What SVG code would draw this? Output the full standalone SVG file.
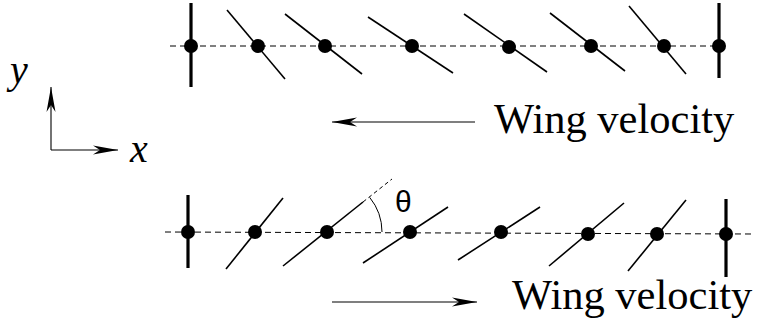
<svg xmlns="http://www.w3.org/2000/svg" width="760" height="327" viewBox="0 0 760 327">
<defs>
<style>
.dash{stroke:#000;stroke-width:1;stroke-dasharray:6,4;fill:none}
.wing{stroke:#000;stroke-width:1.6;fill:none}
.post{stroke:#000;stroke-width:3.2;fill:none}
.dot{fill:#000}
.arr{stroke:#000;stroke-width:1.1;fill:none;marker-end:url(#ah)}
.lbl{font-family:"Liberation Serif",serif;font-size:42.5px;fill:#000}
.ax{font-family:"Liberation Serif",serif;font-style:italic;font-size:40px;fill:#000}
.th{font-family:"Liberation Sans",sans-serif;font-size:30px;fill:#000}
</style>
<marker id="ah" markerUnits="userSpaceOnUse" markerWidth="30" markerHeight="14" viewBox="-26 -7 28 14" refX="0" refY="0" orient="auto" overflow="visible">
<path d="M0,0 L-25,-4.5 L-18,0 L-25,4.5 Z" fill="#000"/>
</marker>
</defs>
<g id="connectors">
<line class="dash" x1="170" y1="46" x2="718" y2="46"/>
<line class="dash" x1="165" y1="232" x2="752" y2="234"/>
<line class="arr" x1="51" y1="150" x2="51" y2="87"/>
<line class="arr" x1="51" y1="150" x2="118" y2="150"/>
<line class="arr" x1="475" y1="122" x2="332" y2="122"/>
<line class="arr" x1="332" y1="302" x2="477" y2="302"/>
<line stroke="#000" stroke-width="1" stroke-dasharray="4,3" x1="363" y1="202" x2="392" y2="179"/>
<path d="M369.7,197.4 A55,55 0 0 1 382,232" stroke="#000" stroke-width="1" fill="none"/>
</g>
<g id="top-row">
<g id="t1"><line class="post" x1="191" y1="3" x2="191" y2="87"/><circle class="dot" cx="191" cy="46" r="7"/></g>
<g id="t2"><line class="wing" x1="227" y1="10" x2="285" y2="79"/><circle class="dot" cx="258" cy="46" r="7"/></g>
<g id="t3"><line class="wing" x1="285" y1="14" x2="362" y2="74"/><circle class="dot" cx="325" cy="46" r="7"/></g>
<g id="t4"><line class="wing" x1="368" y1="17" x2="453" y2="73"/><circle class="dot" cx="412" cy="46" r="7"/></g>
<g id="t5"><line class="wing" x1="464" y1="14" x2="547" y2="72"/><circle class="dot" cx="509" cy="47" r="7"/></g>
<g id="t6"><line class="wing" x1="550" y1="13" x2="625" y2="71"/><circle class="dot" cx="591" cy="46" r="7"/></g>
<g id="t7"><line class="wing" x1="629" y1="6" x2="686" y2="74"/><circle class="dot" cx="664" cy="46" r="7"/></g>
<g id="t8"><line class="post" x1="719" y1="3" x2="719" y2="78"/><circle class="dot" cx="719" cy="46" r="7"/></g>
</g>
<g id="bottom-row">
<g id="b1"><line class="post" x1="188" y1="195" x2="188" y2="268"/><circle class="dot" cx="188" cy="232" r="7"/></g>
<g id="b2"><line class="wing" x1="226" y1="269" x2="283" y2="198"/><circle class="dot" cx="255" cy="232" r="7"/></g>
<g id="b3"><line class="wing" x1="283" y1="266" x2="363" y2="202"/><circle class="dot" cx="327" cy="232" r="7"/></g>
<g id="b4"><line class="wing" x1="363" y1="263" x2="448" y2="207"/><circle class="dot" cx="410" cy="232" r="7"/></g>
<g id="b5"><line class="wing" x1="458" y1="260" x2="540" y2="207"/><circle class="dot" cx="501" cy="232" r="7"/></g>
<g id="b6"><line class="wing" x1="549" y1="266" x2="624" y2="203"/><circle class="dot" cx="588" cy="234" r="7"/></g>
<g id="b7"><line class="wing" x1="628" y1="271" x2="686" y2="200"/><circle class="dot" cx="657" cy="234" r="7"/></g>
<g id="b8"><line class="post" x1="726" y1="199" x2="726" y2="277"/><circle class="dot" cx="726" cy="234" r="7"/></g>
</g>
<g id="labels">
<text class="ax" x="10" y="83">y</text>
<text class="ax" x="130" y="162">x</text>
<text class="th" x="395" y="212">θ</text>
<text class="lbl" x="494" y="133">Wing velocity</text>
<text class="lbl" x="512" y="309">Wing velocity</text>
</g>
</svg>
